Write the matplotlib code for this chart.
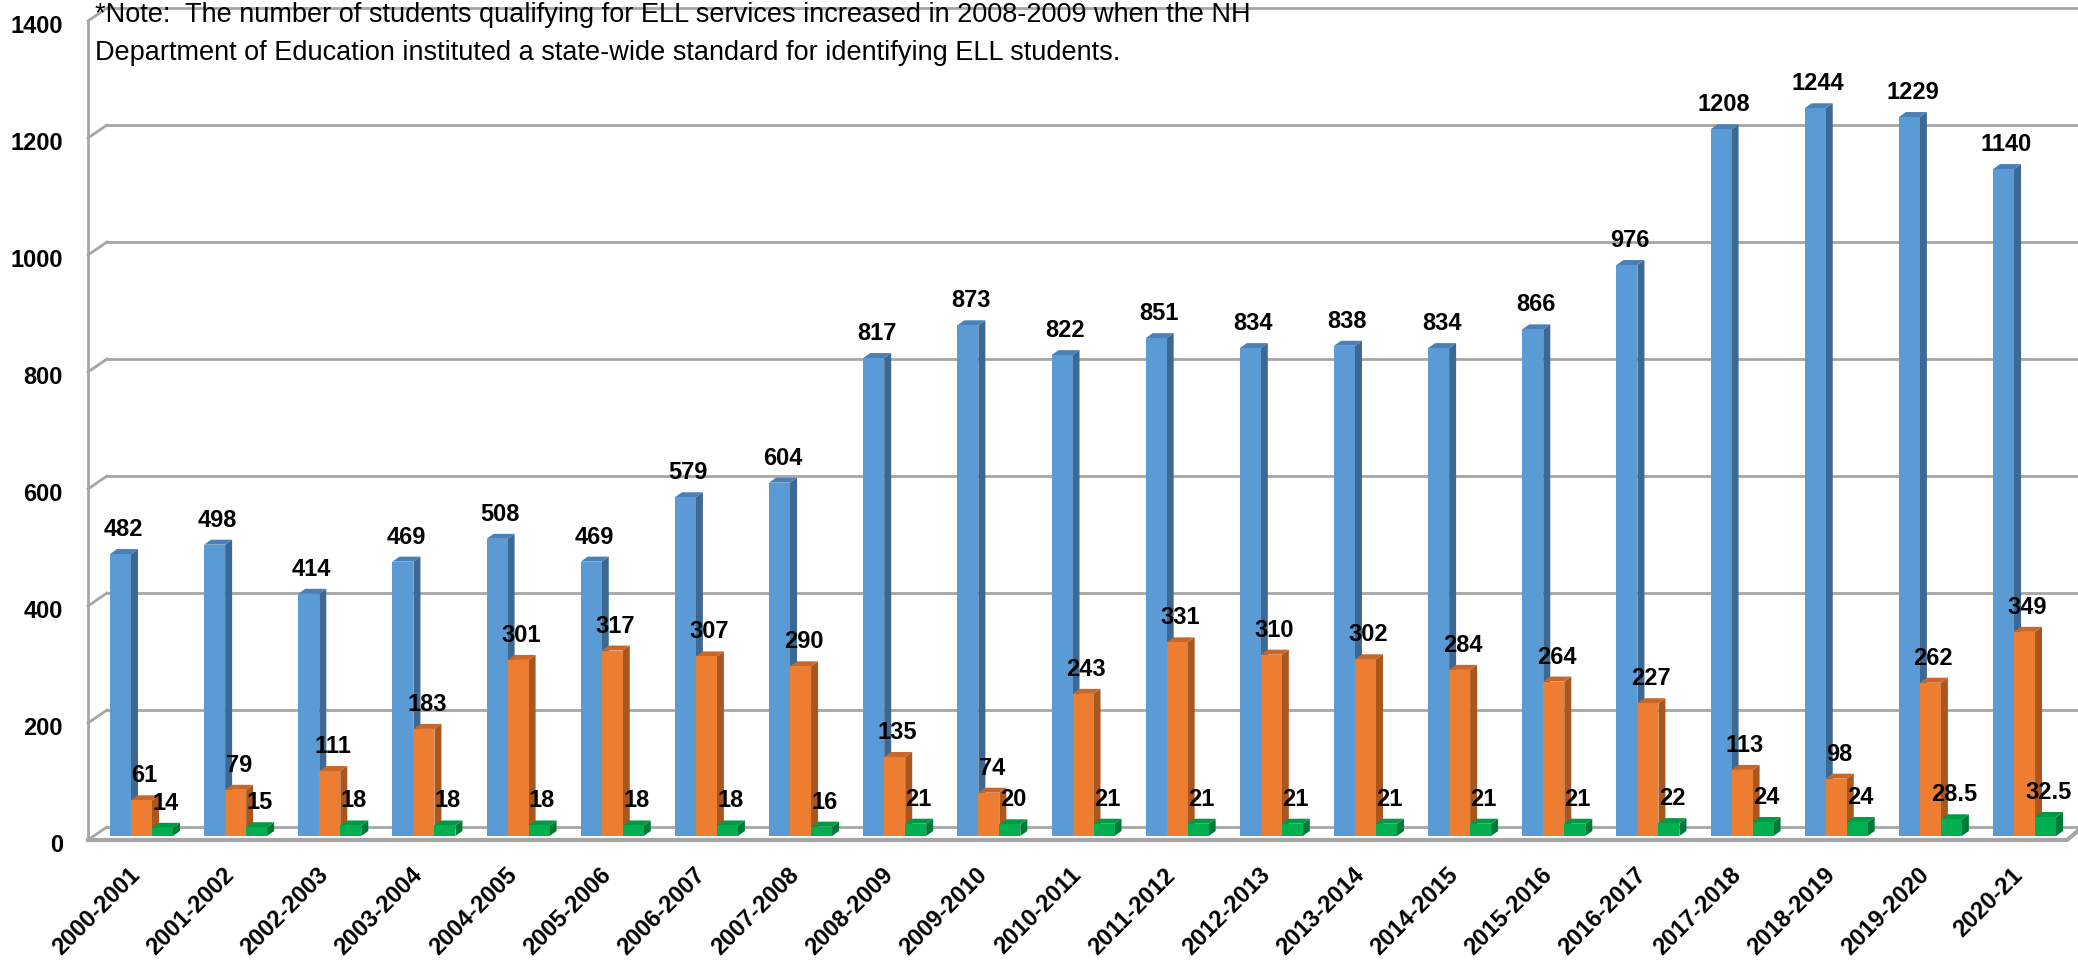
import matplotlib
matplotlib.use("Agg")
import matplotlib.pyplot as plt
from matplotlib.patches import Polygon
from matplotlib import transforms

plt.rcParams['font.family'] = ['Liberation Sans', 'DejaVu Sans']

# data
years = ['2000-2001', '2001-2002', '2002-2003', '2003-2004', '2004-2005', '2005-2006',
         '2006-2007', '2007-2008', '2008-2009', '2009-2010', '2010-2011', '2011-2012',
         '2012-2013', '2013-2014', '2014-2015', '2015-2016', '2016-2017', '2017-2018',
         '2018-2019', '2019-2020', '2020-21']
blue_vals = [482, 498, 414, 469, 508, 469, 579, 604, 817, 873, 822, 851,
             834, 838, 834, 866, 976, 1208, 1244, 1229, 1140]
orange_vals = [61, 79, 111, 183, 301, 317, 307, 290, 135, 74, 243, 331,
               310, 302, 284, 264, 227, 113, 98, 262, 349]
green_vals = [14, 15, 18, 18, 18, 18, 18, 16, 21, 20, 21, 21,
              21, 21, 21, 21, 22, 24, 24, 28.5, 32.5]
y_ticks = [0, 200, 400, 600, 800, 1000, 1200, 1400]
note1 = '*Note:  The number of students qualifying for ELL services increased in 2008-2009 when the NH'
note2 = 'Department of Education instituted a state-wide standard for identifying ELL students.'

# colours: front, side, top
styles = [('#5B9BD5', '#3C6891', '#4A80B8'),
          ('#ED7D31', '#A9561F', '#C9672A'),
          ('#00B050', '#007A38', '#009944')]
grid_c = '#A6A6A6'

W, H = 2078, 962
fig = plt.figure(figsize=(W / 100, H / 100), dpi=100)
left_px, right_px = 88, 2067
base_px, top_px = 837, 18
ax = fig.add_axes([left_px / W, (H - base_px) / H, (right_px - left_px) / W, (base_px - top_px) / H])
x0, x1 = -0.568, 20.451
ax.set_xlim(x0, x1)
ax.set_ylim(0, 1400)
for s in ax.spines.values():
    s.set_visible(False)

px_x = (right_px - left_px) / (x1 - x0)
px_y = (base_px - top_px) / 1400.0
def dx(p):
    return p / px_x
def dy(p):
    return p / px_y

# 3d frame: back wall gridlines, side wall diagonals, floor
for v in y_ticks:
    ax.plot([x0 + dx(19), x1 + dx(19)], [v + dy(9), v + dy(9)], color=grid_c, lw=2,
            clip_on=False, zorder=1)
    ax.plot([x0, x0 + dx(19)], [v - dy(4), v + dy(9)], color=grid_c, lw=2,
            clip_on=False, zorder=1)
ax.plot([x0, x0], [-dy(4), 1400 - dy(4)], color=grid_c, lw=2, clip_on=False, zorder=1)
ax.plot([x0, x1, x1 + dx(12)], [-dy(4), -dy(4), dy(6)], color=grid_c, lw=3,
        clip_on=False, zorder=2)

# bars with side and top faces
bw = dx(21)
ddx, ddy = dx(7), dy(5)
series = [blue_vals, orange_vals, green_vals]
for k, vals in enumerate(series):
    front, side, top = styles[k]
    off = (k - 1) * bw
    for i, v in enumerate(vals):
        xl = i + off - bw / 2
        xr = i + off + bw / 2
        ax.add_patch(Polygon([(xr, 0), (xr, v), (xr + ddx, v + ddy), (xr + ddx, ddy)],
                             closed=True, facecolor=side, edgecolor='none', zorder=3 + k))
        ax.add_patch(Polygon([(xl, v), (xr, v), (xr + ddx, v + ddy), (xl + ddx, v + ddy)],
                             closed=True, facecolor=top, edgecolor='none', zorder=3 + k))
        ax.text(i + off + dx(3), v + dy(19), f'{v:g}', ha='center', va='baseline',
                fontsize=17, fontweight='bold', zorder=10)
    ax.bar([i + off for i in range(len(vals))], vals, width=bw, color=front,
           edgecolor='none', zorder=3 + k)

# axes labels
ax.set_yticks(y_ticks)
ax.set_yticklabels([str(t) for t in y_ticks], fontsize=17, fontweight='bold')
ax.set_xticks(range(len(years)))
ax.set_xticklabels(years, fontsize=17, fontweight='bold', rotation=45, ha='right',
                   va='center', rotation_mode='anchor')
ax.tick_params(axis='y', length=0, pad=18)
ax.tick_params(axis='x', length=0, pad=25)
shift_y = transforms.ScaledTranslation(0, -6 / 100, fig.dpi_scale_trans)
for lab in ax.get_yticklabels():
    lab.set_transform(lab.get_transform() + shift_y)
shift_x = transforms.ScaledTranslation(-5 / 100, 0, fig.dpi_scale_trans)
for lab in ax.get_xticklabels():
    lab.set_transform(lab.get_transform() + shift_x)

fig.text(95 / W, 1 - 22 / H, note1, fontsize=19.5, va='baseline')
fig.text(95 / W, 1 - 60 / H, note2, fontsize=19.5, va='baseline')

fig.savefig('out.png', dpi=100)
